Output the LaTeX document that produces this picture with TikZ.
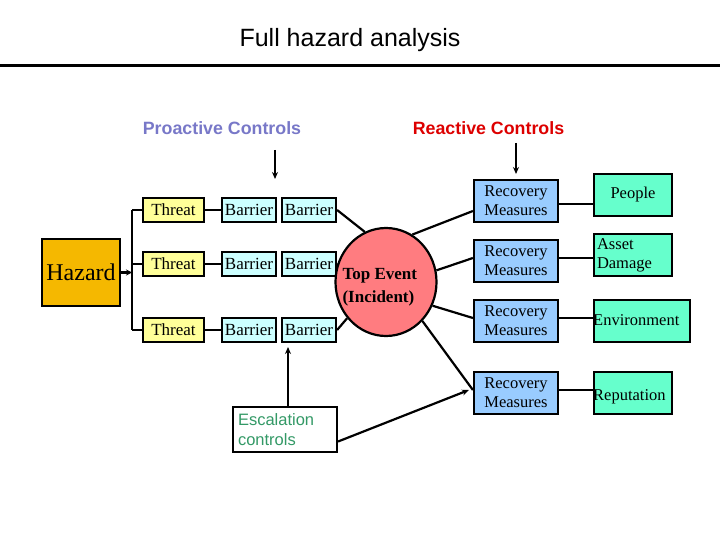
\documentclass[tikz,border=0pt]{standalone}
\usepackage{fontspec}
\setmainfont{Liberation Serif}
\setsansfont{Liberation Sans}
\usetikzlibrary{shapes.geometric,arrows.meta}
\definecolor{hazardc}{HTML}{F5B800}
\definecolor{threatc}{HTML}{FFFF99}
\definecolor{barrierc}{HTML}{CCFFFF}
\definecolor{topc}{HTML}{FF7C80}
\definecolor{recc}{HTML}{99CCFF}
\definecolor{consc}{HTML}{66FFCC}
\definecolor{proc}{HTML}{7878C8}
\definecolor{reac}{HTML}{DD0000}
\definecolor{escc}{HTML}{339966}
\tikzset{
  box/.style={draw=black, line width=2.2pt, rectangle, inner sep=0pt, align=center},
  threatbox/.style={box, fill=threatc, minimum width=61pt, minimum height=24pt, font=\fontsize{17}{19}\selectfont},
  barrierbox/.style={box, fill=barrierc, minimum width=54pt, minimum height=24pt, font=\fontsize{17}{19}\selectfont},
  recbox/.style={box, fill=recc, minimum width=84pt, minimum height=42pt, font=\fontsize{16.5}{19}\selectfont},
  consbox/.style={box, fill=consc, minimum width=78pt, minimum height=42pt, font=\fontsize{16.5}{19}\selectfont},
  conn/.style={line width=2.2pt},
  arr/.style={line width=2.2pt, -{Stealth[length=7pt,width=6pt]}},
}
\begin{document}
\begin{tikzpicture}[x=1pt,y=-1pt]
\useasboundingbox (0,0) rectangle (720,540);
% title
\node (title) at (350,40) {\sffamily\fontsize{25}{28}\selectfont Full hazard analysis};
\coordinate (ruleL) at (0,65.5);
\coordinate (ruleR) at (720,65.5);
\draw[line width=3pt] (ruleL) -- (ruleR);
% headers
\node[text=proc, font=\sffamily\bfseries\fontsize{17.8}{20}\selectfont] (pro) at (222,128) {Proactive Controls};
\node[text=reac, font=\sffamily\bfseries\fontsize{17.8}{20}\selectfont] (rea) at (488.5,128) {Reactive Controls};
\coordinate (pa1) at (275,150);
\coordinate (pa2) at (275,179);
\draw[arr] (pa1) -- (pa2);
\coordinate (ra1) at (516,143);
\coordinate (ra2) at (516,174);
\draw[arr] (ra1) -- (ra2);
% hazard
\node[box, fill=hazardc, minimum width=78pt, minimum height=67pt, font=\fontsize{24}{26}\selectfont] (haz) at (81,272.5) {Hazard};
\coordinate (split) at (132,272.5);
\coordinate (vtop) at (132,210);
\coordinate (vbot) at (132,330);
\draw[line width=2.2pt, -{Stealth[length=6pt,width=6pt]}] (haz.east) -- (split);
\draw[conn] (vtop) -- (vbot);
% threats and barriers
\foreach \i/\y in {1/210,2/264,3/330}{
  \node[threatbox] (t\i) at (173.5,\y) {Threat};
  \node[barrierbox] (ba\i) at (249,\y) {Barrier};
  \node[barrierbox] (bb\i) at (309,\y) {Barrier};
  \draw[conn] (vtop |- t\i.west) -- (t\i.west);
  \draw[conn] (t\i.east) -- (ba\i.west);
}
% top event
\node[ellipse, draw=black, line width=2.2pt, fill=topc, minimum width=101pt, minimum height=108pt, inner sep=0pt] (te) at (386,282) {};
\node[font=\bfseries\fontsize{17}{23}\selectfont, align=left, anchor=west] (tetext) at (339,287) {Top Event\\(Incident)};
\draw[conn] (bb1.east) -- (te.113);
\draw[conn] (bb2.east) -- (te.159);
\draw[conn] (bb3.east) -- (te.223);
% recovery measures
\foreach \i/\y in {1/201,2/261,3/321,4/393}{
  \node[recbox] (r\i) at (516,\y) {Recovery\\Measures};
}
\coordinate (r1in) at ([yshift=-10pt]r1.west);
\coordinate (r2in) at ([yshift=3pt]r2.west);
\coordinate (r3in) at ([yshift=3pt]r3.west);
\coordinate (r4in) at ([yshift=3pt]r4.west);
\draw[conn] (te.61) -- (r1in);
\draw[conn] (te.13) -- (r2in);
\draw[conn] (te.333) -- (r3in);
\draw[conn] (te.313) -- (r4in);
% consequences
\node[consbox] (c1) at (633,195) {People};
\node[consbox, text width=72pt, align=left] (c2) at (633,255) {Asset\\Damage};
\node[consbox, minimum width=96pt] (c3) at (642,321) {};
\node[font=\fontsize{16.5}{19}\selectfont, anchor=west, inner sep=0pt] (c3t) at (593,320) {Environment};
\node[consbox] (c4) at (633,393) {};
\node[font=\fontsize{16.5}{19}\selectfont, anchor=west, inner sep=0pt] (c4t) at (593,397) {Reputation};
\coordinate (r1out) at ([yshift=-3pt]r1.east);
\coordinate (r2out) at ([yshift=3pt]r2.east);
\coordinate (r3out) at ([yshift=3pt]r3.east);
\coordinate (r4out) at ([yshift=3pt]r4.east);
\draw[conn] (r1out) -- (c1.west |- r1out);
\draw[conn] (r2out) -- (c2.west |- r2out);
\draw[conn] (r3out) -- (c3.west |- r3out);
\draw[conn] (r4out) -- (c4.west |- r4out);
% escalation
\node[box, fill=white, minimum width=104pt, minimum height=45pt, text width=94pt, align=left, text=escc, font=\sffamily\fontsize{16.5}{20}\selectfont] (esc) at (285,429.5) {Escalation\\controls};
\coordinate (escup) at (288,347);
\coordinate (escout) at ([yshift=-12pt]esc.east);
\coordinate (r4tip) at ([xshift=-4pt]r4in);
\draw[arr] (esc.north -| escup) -- (escup);
\draw[arr] (escout) -- (r4tip);
\end{tikzpicture}
\end{document}
